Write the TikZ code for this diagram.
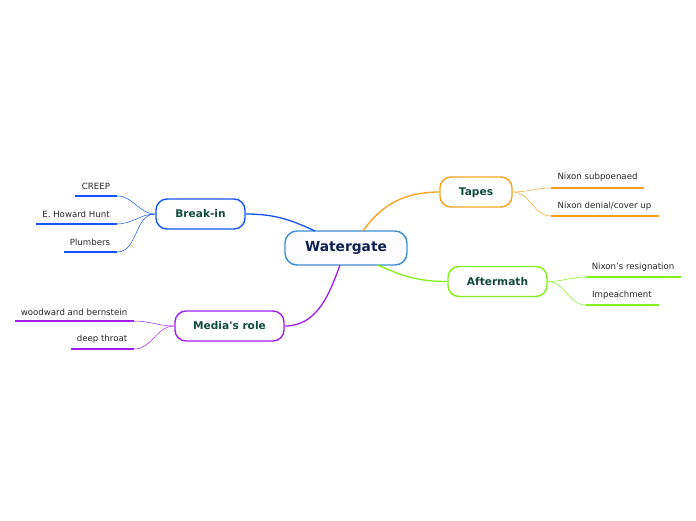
\documentclass[tikz,border=0pt]{standalone}
\usepackage{fontspec}
\setmainfont{DejaVu Sans}
\usepackage{tikz}
\definecolor{wgblue}{RGB}{58,142,212}
\definecolor{wgtext}{RGB}{12,32,80}
\definecolor{brtext}{RGB}{16,74,60}
\definecolor{brblue}{RGB}{20,84,245}
\definecolor{tporange}{RGB}{248,160,30}
\definecolor{afgreen}{RGB}{130,240,30}
\definecolor{mdpurple}{RGB}{160,30,240}
\tikzstyle{main}=[draw=wgblue,line width=1.4pt,rounded corners=12pt,fill=blue!1,minimum width=122pt,minimum height=34pt,font=\fontsize{13.8}{16}\selectfont\bfseries,text=wgtext]
\tikzstyle{topic}=[line width=1.4pt,rounded corners=11pt,fill=white,minimum height=30pt,text depth=0.5pt,font=\fontsize{10.6}{12}\selectfont\bfseries,text=brtext]
\tikzstyle{leaf}=[font=\fontsize{8.6}{10}\selectfont,text=black!85,inner sep=0pt]
\tikzstyle{branch}=[line width=1.3pt]
\tikzstyle{twig}=[line width=0.5pt]
\tikzstyle{uline}=[line width=2.2pt]

\begin{document}
\begin{tikzpicture}[x=1pt,y=-1pt]
\useasboundingbox (0,0) rectangle (696,520);
\node[main] (wg) at (346,248) {Watergate};
\node[topic,draw=brblue,minimum width=89pt] (brk) at (200.5,214) {Break-in};
\node[topic,draw=mdpurple,minimum width=109pt] (med) at (229.5,326) {Media\textquotesingle s role};
\node[topic,draw=tporange,minimum width=72pt] (tap) at (476,192) {Tapes};
\node[topic,draw=afgreen,minimum width=99pt] (aft) at (497.5,281.5) {Aftermath};
% main branches
\coordinate (wgA) at (315,231);
\coordinate (wgB) at (363,231);
\coordinate (wgC) at (378,265);
\coordinate (wgD) at (340,265);
\draw[branch,brblue] (brk.east) to[out=0,in=155] (wgA);
\draw[branch,tporange] (wgB) to[out=55,in=180] (tap.west);
\draw[branch,afgreen] (wgC) to[out=-25,in=180] (aft.west);
\draw[branch,mdpurple] (wgD) to[out=-110,in=0] (med.east);
% break-in
\coordinate (creepL) at (75,196); \coordinate (creepR) at (117,196);
\coordinate (huntL) at (36,224); \coordinate (huntR) at (117,224);
\coordinate (plumL) at (64,252); \coordinate (plumR) at (117,252);
\draw[uline,brblue] (creepL)--(creepR);
\draw[uline,brblue] (huntL)--(huntR);
\draw[uline,brblue] (plumL)--(plumR);
\node[leaf] (creep) at (96,186) {CREEP};
\node[leaf] (hunt) at (76,214) {E. Howard Hunt};
\node[leaf] (plum) at (90,242) {Plumbers};
\draw[twig,brblue] (brk.west) to[out=180,in=0] (creepR);
\draw[twig,brblue] (brk.west) to[out=180,in=0] (huntR);
\draw[twig,brblue] (brk.west) to[out=180,in=0] (plumR);
% media's role
\coordinate (wbL) at (15,321); \coordinate (wbR) at (134,321);
\coordinate (dtL) at (71,349); \coordinate (dtR) at (134,349);
\draw[uline,mdpurple] (wbL)--(wbR);
\draw[uline,mdpurple] (dtL)--(dtR);
\node[leaf] (wb) at (74,312) {woodward and bernstein};
\node[leaf] (dt) at (102,339) {deep throat};
\draw[twig,mdpurple] (med.west) to[out=180,in=0] (wbR);
\draw[twig,mdpurple] (med.west) to[out=180,in=0] (dtR);
% tapes
\coordinate (subL) at (551,188); \coordinate (subR) at (644,188);
\coordinate (denL) at (551,216); \coordinate (denR) at (659,216);
\draw[uline,tporange] (subL)--(subR);
\draw[uline,tporange] (denL)--(denR);
\node[leaf] (sub) at (597.5,177) {Nixon subpoenaed};
\node[leaf] (den) at (604.5,206) {Nixon denial/cover up};
\draw[twig,tporange] (tap.east) to[out=0,in=180] (subL);
\draw[twig,tporange] (tap.east) to[out=0,in=180] (denL);
% aftermath
\coordinate (resL) at (586,277); \coordinate (resR) at (681,277);
\coordinate (impL) at (586,305); \coordinate (impR) at (659,305);
\draw[uline,afgreen] (resL)--(resR);
\draw[uline,afgreen] (impL)--(impR);
\node[leaf] (res) at (633,267) {Nixon's resignation};
\node[leaf] (imp) at (622,295) {Impeachment};
\draw[twig,afgreen] (aft.east) to[out=0,in=180] (resL);
\draw[twig,afgreen] (aft.east) to[out=0,in=180] (impL);
\end{tikzpicture}
\end{document}
